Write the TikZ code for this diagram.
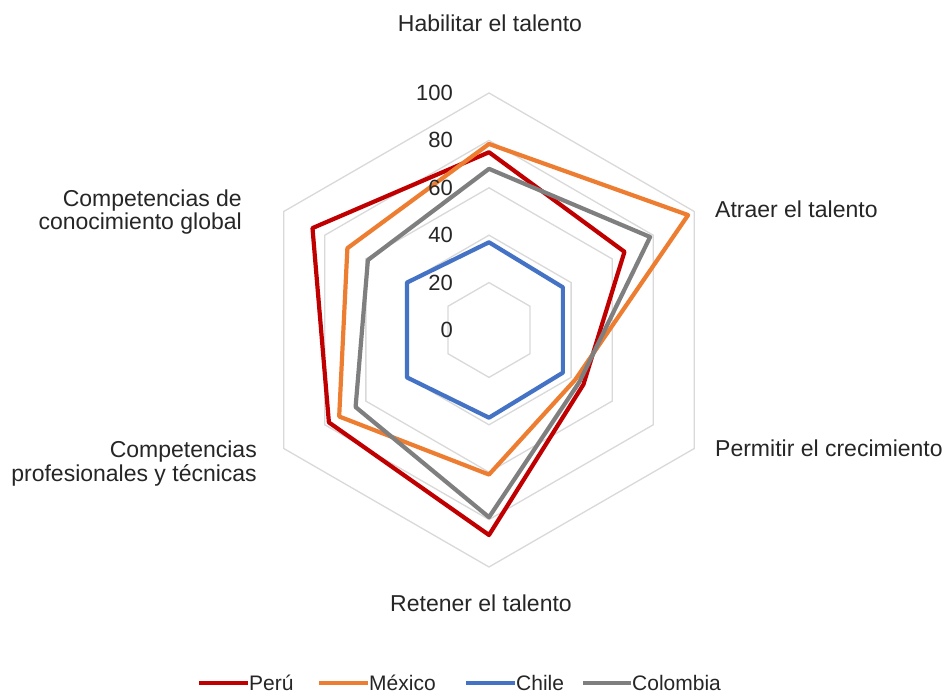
\documentclass[tikz,border=0pt]{standalone}
\usepackage{fontspec}
\setmainfont{Liberation Sans}
\usetikzlibrary{calc}
\definecolor{peru}{HTML}{C00000}
\definecolor{mexico}{HTML}{ED7D31}
\definecolor{chile}{HTML}{4472C4}
\definecolor{colombia}{HTML}{7F7F7F}
\definecolor{gridc}{HTML}{D9D9D9}
\definecolor{txt}{HTML}{262626}
\begin{document}
\begin{tikzpicture}[x=1pt,y=1pt,
  gridline/.style={draw=gridc, line width=1.3pt},
  series/.style={line width=4.2pt, line join=round},
  ticklbl/.style={font=\fontsize{22}{26}\selectfont, text=txt, inner sep=0pt, anchor=east},
  axlbl/.style={font=\fontsize{23}{27}\selectfont, text=txt, inner sep=0pt},
  leglbl/.style={font=\fontsize{21}{25}\selectfont, text=txt, inner sep=0pt, anchor=west},
  legline/.style={line width=4.2pt}]
\useasboundingbox (0,0) rectangle (947,698);
\fill[white] (0,0) rectangle (947,698);
\coordinate (C) at (489,368);
\def\u{2.37}
% grid hexagons
\foreach \v in {20,40,60,80,100}{
  \draw[gridline] ($(C)+(90:\v*\u)$) -- ($(C)+(30:\v*\u)$) -- ($(C)+(-30:\v*\u)$) -- ($(C)+(-90:\v*\u)$) -- ($(C)+(210:\v*\u)$) -- ($(C)+(150:\v*\u)$) -- cycle;
}
% series: Habilitar, Atraer, Permitir, Retener, profesionales, global
\newcommand{\radarseries}[7]{%
  \draw[series, draw=#1] ($(C)+(90:#2*\u)$) -- ($(C)+(30:#3*\u)$) -- ($(C)+(-30:#4*\u)$) -- ($(C)+(-90:#5*\u)$) -- ($(C)+(210:#6*\u)$) -- ($(C)+(150:#7*\u)$) -- cycle;}
\radarseries{peru}{75}{66}{46}{86.5}{78}{86}
\radarseries{mexico}{78.5}{97}{42}{61}{73}{69}
\radarseries{chile}{37}{36}{36}{37}{40}{40}
\radarseries{colombia}{68}{78.5}{44}{79}{65}{59}
% tick labels
\foreach \v/\nm in {0/t0,20/t20,40/t40,60/t60,80/t80,100/t100}{
  \node[ticklbl] (\nm) at (453,368+\v*\u) {\v};
}
% axis labels
\node[axlbl, anchor=base] (hab) at (490,666) {Habilitar el talento};
\node[axlbl, anchor=base west] (atr) at (715,480) {Atraer el talento};
\node[axlbl, anchor=base west] (per) at (715,241) {Permitir el crecimiento};
\node[axlbl, anchor=base] (ret) at (481,86) {Retener el talento};
\node[axlbl, anchor=base east] (glob1) at (242,491) {Competencias de};
\node[axlbl, anchor=base east] (glob2) at (242,468) {conocimiento global};
\node[axlbl, anchor=base east] (prof1) at (257,240) {Competencias};
\node[axlbl, anchor=base east] (prof2) at (257,216) {profesionales y técnicas};
% legend
\coordinate (l1a) at (199,15); \coordinate (l1b) at (248,15);
\coordinate (l2a) at (319,15); \coordinate (l2b) at (368,15);
\coordinate (l3a) at (466,15); \coordinate (l3b) at (515,15);
\coordinate (l4a) at (583,15); \coordinate (l4b) at (631,15);
\draw[legline, draw=peru] (l1a) -- (l1b);
\draw[legline, draw=mexico] (l2a) -- (l2b);
\draw[legline, draw=chile] (l3a) -- (l3b);
\draw[legline, draw=colombia] (l4a) -- (l4b);
\node[leglbl] (lp) at (249,15) {Perú};
\node[leglbl] (lm) at (369,15) {México};
\node[leglbl] (lc) at (516,15) {Chile};
\node[leglbl] (lco) at (632,15) {Colombia};
\end{tikzpicture}
\end{document}
